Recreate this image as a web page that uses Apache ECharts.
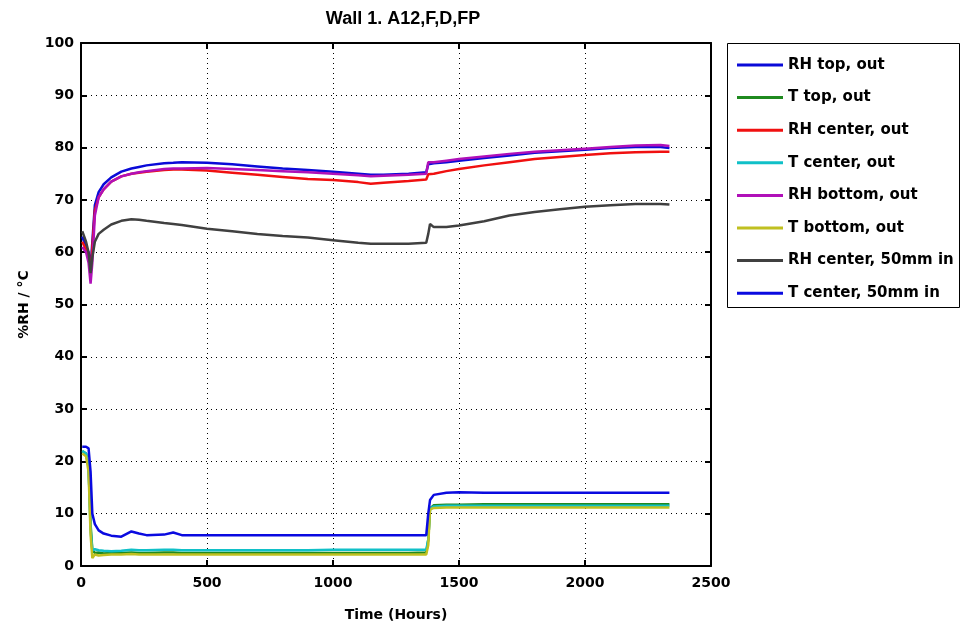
<!DOCTYPE html>
<html>
<head>
<meta charset="utf-8">
<script src="https://cdn.jsdelivr.net/npm/echarts@6/dist/echarts.min.js"></script>
<style>
  html, body { margin: 0; padding: 0; background: #fff; }
  #chart { width: 961px; height: 632px; }
</style>
</head>
<body>
<div id="chart"></div>
<script>
// Time stamps (hours) shared by every sensor trace
const hours = [5, 20, 30, 38, 45, 55, 70, 90, 120, 160, 200, 230, 260, 330, 366, 400, 500, 600, 700, 800, 900, 1000, 1100, 1150, 1200, 1300, 1370, 1378, 1385, 1400, 1450, 1500, 1600, 1700, 1800, 1900, 2000, 2100, 2200, 2300, 2335];

// Relative humidity traces (%RH)
const rhTopOut       = [63, 61, 60, 57, 62, 69, 71.5, 73, 74.3, 75.4, 76, 76.3, 76.6, 77, 77.1, 77.2, 77.1, 76.8, 76.4, 76.0, 75.7, 75.4, 75.0, 74.8, 74.8, 75.0, 75.3, 76.8, 77.0, 77.0, 77.2, 77.5, 78.0, 78.5, 79.0, 79.3, 79.6, 79.9, 80.1, 80.1, 79.9];
const rhCenterOut    = [62, 60.5, 59, 56, 61, 68, 70.5, 72, 73.5, 74.5, 75, 75.2, 75.4, 75.7, 75.8, 75.8, 75.6, 75.2, 74.8, 74.4, 74.0, 73.8, 73.4, 73.1, 73.3, 73.6, 73.9, 74.9, 75.1, 75.0, 75.5, 75.9, 76.6, 77.2, 77.8, 78.2, 78.6, 78.9, 79.1, 79.2, 79.2];
const rhBottomOut    = [61, 60, 58, 54, 58, 67, 70.5, 72, 73.5, 74.5, 75, 75.3, 75.5, 75.9, 76.0, 76.0, 76.1, 75.9, 75.7, 75.5, 75.3, 75.0, 74.7, 74.5, 74.6, 74.8, 75.0, 77.2, 77.3, 77.2, 77.5, 77.8, 78.3, 78.8, 79.2, 79.5, 79.8, 80.1, 80.4, 80.5, 80.3];
const rhCenter50mm   = [64, 62, 60, 56, 59, 62, 63.5, 64.3, 65.3, 66, 66.3, 66.2, 66, 65.6, 65.4, 65.2, 64.5, 64, 63.5, 63.1, 62.8, 62.3, 61.8, 61.6, 61.6, 61.6, 61.8, 63.5, 65.4, 64.8, 64.8, 65.1, 65.9, 67, 67.7, 68.2, 68.7, 69, 69.2, 69.2, 69.1];

// Temperature traces (°C)
const tTopOut        = [22, 21.5, 19, 8, 3, 2.5, 2.6, 2.4, 2.5, 2.5, 2.6, 2.5, 2.5, 2.6, 2.6, 2.5, 2.5, 2.5, 2.5, 2.5, 2.5, 2.5, 2.5, 2.5, 2.5, 2.5, 2.6, 5, 11, 11.6, 11.7, 11.7, 11.8, 11.8, 11.8, 11.8, 11.8, 11.8, 11.8, 11.8, 11.8];
const tCenterOut     = [22, 21.5, 19, 7, 3, 3.2, 3.0, 2.9, 2.8, 2.9, 3.1, 3.0, 3.0, 3.1, 3.1, 3.0, 3.0, 3.0, 3.0, 3.0, 3.0, 3.1, 3.1, 3.1, 3.1, 3.1, 3.1, 5, 11, 11.4, 11.5, 11.5, 11.5, 11.5, 11.5, 11.5, 11.5, 11.5, 11.5, 11.5, 11.5];
const tBottomOut     = [21.5, 21, 18, 6, 1.5, 2.2, 2.0, 2.1, 2.2, 2.2, 2.3, 2.2, 2.2, 2.2, 2.2, 2.2, 2.2, 2.2, 2.2, 2.2, 2.2, 2.2, 2.2, 2.2, 2.2, 2.2, 2.2, 4, 10.8, 11.1, 11.2, 11.2, 11.2, 11.2, 11.2, 11.2, 11.2, 11.2, 11.2, 11.2, 11.2];
const tCenter50mm    = [22.8, 22.8, 22.5, 18, 10, 8, 6.8, 6.2, 5.8, 5.6, 6.6, 6.2, 5.9, 6.0, 6.4, 5.9, 5.9, 5.9, 5.9, 5.9, 5.9, 5.9, 5.9, 5.9, 5.9, 5.9, 5.9, 10, 12.6, 13.6, 14.0, 14.1, 14.0, 14.0, 14.0, 14.0, 14.0, 14.0, 14.0, 14.0, 14.0];

const seriesNames  = ['RH top, out', 'T top, out', 'RH center, out', 'T center, out', 'RH bottom, out', 'T bottom, out', 'RH center, 50mm in', 'T center, 50mm in'];
const seriesValues = [rhTopOut, tTopOut, rhCenterOut, tCenterOut, rhBottomOut, tBottomOut, rhCenter50mm, tCenter50mm];
const seriesColors = ['#0a0ad8', '#1f8a1f', '#f01010', '#10c0c8', '#b010b8', '#c0c020', '#404040', '#0a0ae0'];

const xTicks = { min: 0, max: 2500, interval: 500 };
const yTicks = { min: 0, max: 100, interval: 10 };

const tickFont = { fontFamily: 'DejaVu Sans', fontWeight: 'bold', fontSize: 14, color: '#000' };
const dotted = { color: '#000', width: 1, type: [1, 4] };
const frame = { show: true, onZero: false, lineStyle: { color: '#000', width: 2 } };
const innerTick = { show: true, inside: true, length: 6, lineStyle: { color: '#000', width: 2 } };
const plainNumber = v => String(v);

const chart = echarts.init(document.getElementById('chart'), null, { renderer: 'canvas' });

chart.setOption({
  animation: false,
  backgroundColor: '#fff',
  title: {
    text: 'Wall 1. A12,F,D,FP',
    left: 398,
    top: 5,
    textAlign: 'center',
    textStyle: { fontFamily: 'Liberation Sans', fontWeight: 'bold', fontSize: 18, color: '#000' }
  },
  grid: { left: 81, top: 43, right: 250, bottom: 66, containLabel: false },
  legend: {
    orient: 'vertical',
    left: 737,
    top: 57,
    padding: 0,
    itemGap: 16.6,
    itemWidth: 46,
    itemHeight: 3,
    icon: 'rect',
    data: seriesNames,
    textStyle: { fontFamily: 'DejaVu Sans', fontWeight: 'bold', fontSize: 15, color: '#000', lineHeight: 16 }
  },
  graphic: [{
    type: 'rect',
    shape: { x: 727.5, y: 43.5, width: 232, height: 264 },
    style: { fill: 'none', stroke: '#000', lineWidth: 1 },
    z: 10
  }],
  xAxis: [{
    type: 'value',
    min: xTicks.min, max: xTicks.max, interval: xTicks.interval,
    name: 'Time (Hours)',
    nameLocation: 'middle',
    nameGap: 42,
    nameTextStyle: tickFont,
    axisLine: frame,
    axisTick: innerTick,
    axisLabel: Object.assign({ margin: 10, formatter: plainNumber }, tickFont),
    splitLine: { show: true, lineStyle: dotted }
  }, {
    type: 'value',
    position: 'top',
    min: xTicks.min, max: xTicks.max, interval: xTicks.interval,
    axisLine: frame,
    axisTick: innerTick,
    axisLabel: { show: false },
    splitLine: { show: false }
  }],
  yAxis: [{
    type: 'value',
    min: yTicks.min, max: yTicks.max, interval: yTicks.interval,
    name: '%RH / °C',
    nameLocation: 'middle',
    nameGap: 50,
    nameTextStyle: tickFont,
    axisLine: frame,
    axisTick: innerTick,
    axisLabel: Object.assign({ margin: 7, formatter: plainNumber }, tickFont),
    splitLine: { show: true, lineStyle: dotted }
  }, {
    type: 'value',
    position: 'right',
    min: yTicks.min, max: yTicks.max, interval: yTicks.interval,
    axisLine: frame,
    axisTick: innerTick,
    axisLabel: { show: false },
    splitLine: { show: false }
  }],
  series: seriesNames.map((name, i) => ({
    name: name,
    type: 'line',
    xAxisIndex: 0,
    yAxisIndex: 0,
    showSymbol: false,
    symbol: 'none',
    color: seriesColors[i],
    lineStyle: { width: 2.5, color: seriesColors[i] },
    data: hours.map((h, k) => [h, seriesValues[i][k]])
  }))
});
</script>
</body>
</html>
